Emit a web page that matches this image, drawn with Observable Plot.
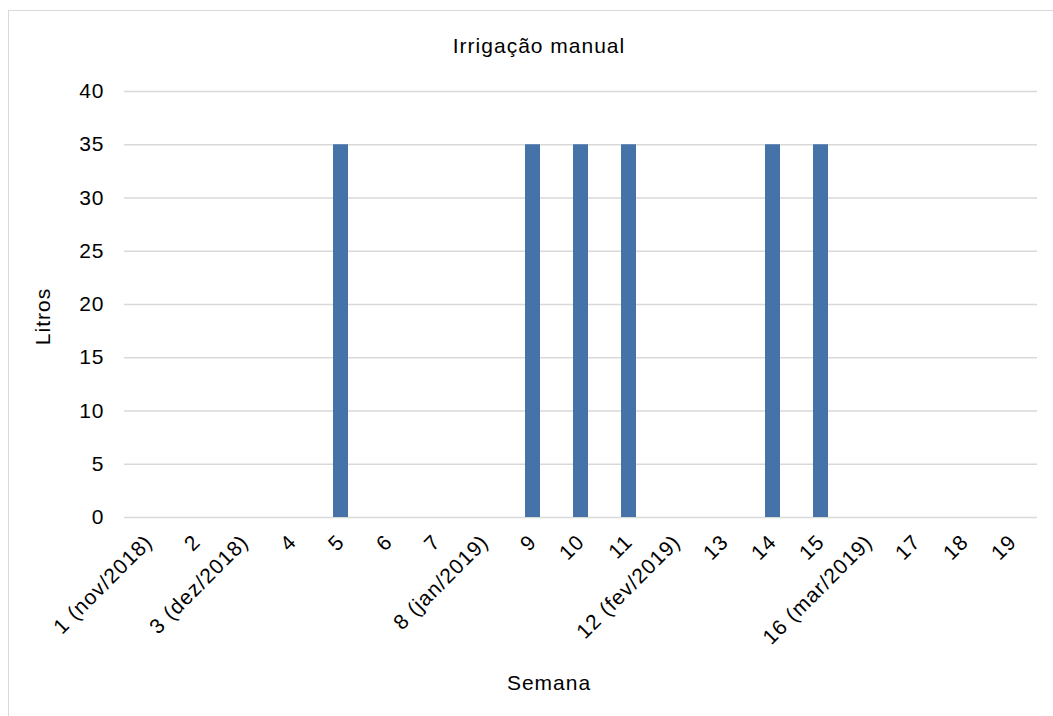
<!DOCTYPE html>
<html>
<head>
<meta charset="utf-8">
<script src="https://cdn.jsdelivr.net/npm/d3@7"></script>
<script src="https://cdn.jsdelivr.net/npm/@observablehq/plot@0.6"></script>
<style>
  html, body { margin: 0; padding: 0; background: #fff; }
  body { width: 1053px; height: 716px; position: relative; overflow: hidden; font-family: "Liberation Sans", Arial, sans-serif; }
  #frame { position: absolute; left: 8px; top: 10px; width: 1100px; height: 800px; border: 1.5px solid #d9d9d9; box-sizing: border-box; }
  #title { position: absolute; left: 0; width: 1078px; top: 34px; text-align: center; font-size: 21px; letter-spacing: 1px; color: #000; }
  #chart { position: absolute; left: 0; top: 0; }
  #chart svg text { letter-spacing: 1px; }
</style>
</head>
<body>
<div id="frame"></div>
<div id="title">Irrigação manual</div>
<div id="chart"></div>
<script>
const semanas = ["1 (nov/2018)", "2", "3 (dez/2018)", "4", "5", "6", "7", "8 (jan/2019)", "9", "10", "11", "12 (fev/2019)", "13", "14", "15", "16 (mar/2019)", "17", "18", "19"];
const litros = [0, 0, 0, 0, 35, 0, 0, 0, 35, 35, 35, 0, 0, 35, 35, 0, 0, 0, 0];
const yTicks = [0, 5, 10, 15, 20, 25, 30, 35, 40];

const data = semanas.map((s, i) => ({semana: s, litros: litros[i]}));

const chart = Plot.plot({
  width: 1053,
  height: 716,
  marginLeft: 124,
  marginRight: 16,
  marginTop: 91,
  marginBottom: 199,
  style: {fontFamily: "'Liberation Sans', Arial, sans-serif", fontSize: "21px", color: "#000", background: "transparent"},
  x: {domain: semanas, paddingInner: 0.69, paddingOuter: 0.345, label: null},
  y: {domain: [0, 40], label: null},
  marks: [
    Plot.ruleY(yTicks, {stroke: "#d9d9d9", strokeWidth: 1.5}),
    Plot.barY(data, {x: "semana", y: "litros", fill: "#4573a8"}),
    Plot.axisY({ticks: yTicks, tickSize: 0, tickPadding: 20, label: null, fontSize: 21}),
    Plot.axisX({tickSize: 0, tickPadding: 21, tickRotate: -45, label: null, fontSize: 21}),
    Plot.text(["Litros"], {frameAnchor: "left", textAnchor: "middle", dx: -81, dy: 12, rotate: -90, fontSize: 21, fill: "#000"}),
    Plot.text(["Semana"], {frameAnchor: "bottom", dx: -32, dy: 172, fontSize: 21, fill: "#000"})
  ]
});
document.getElementById("chart").appendChild(chart);
</script>
</body>
</html>
